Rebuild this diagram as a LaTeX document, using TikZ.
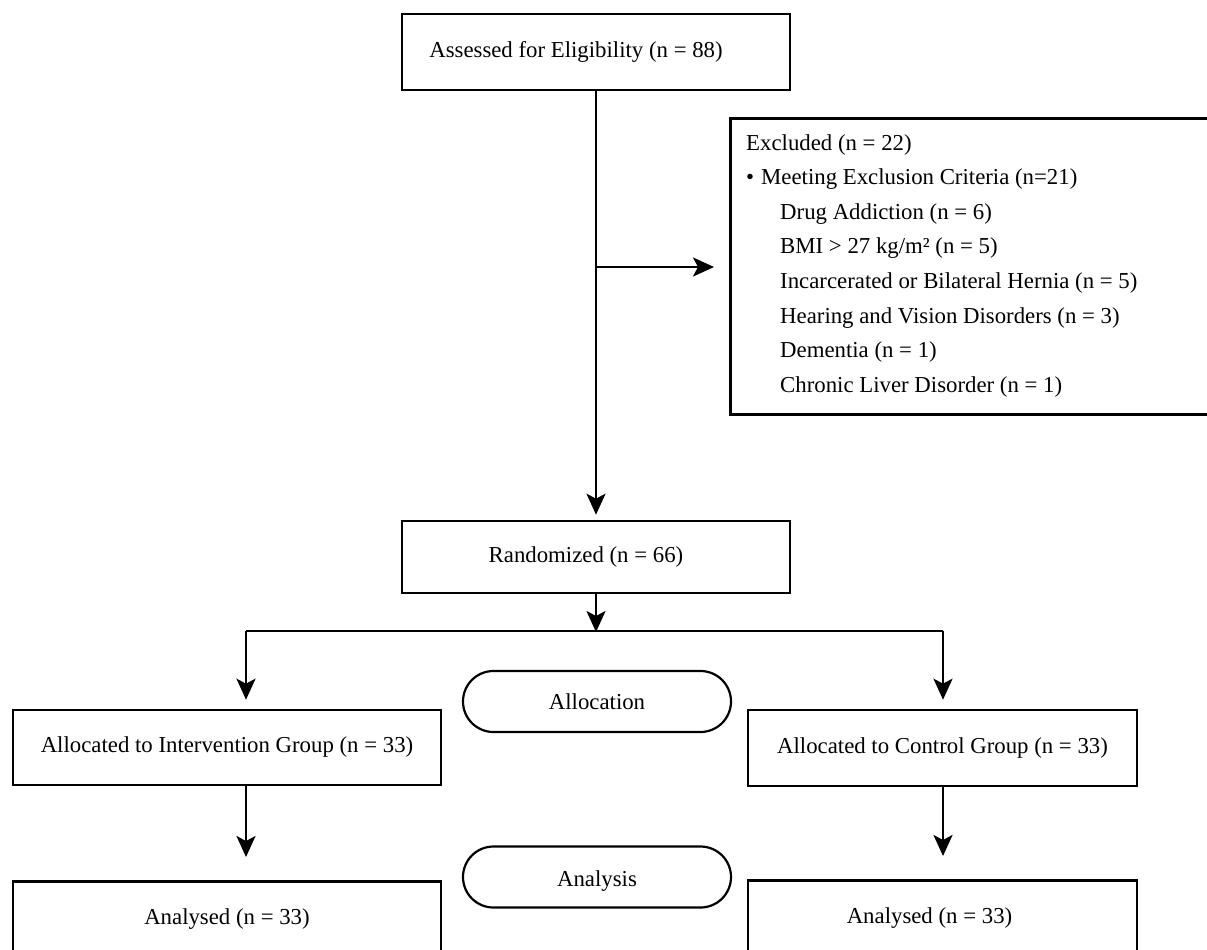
\documentclass[tikz,border=0pt]{standalone}
\usepackage{fontspec}
\setmainfont{Liberation Serif}
\usetikzlibrary{arrows.meta,shapes.misc}
\begin{document}
\begin{tikzpicture}[x=1pt,y=-1pt,
  every node/.style={font=\fontsize{22.8}{26}\selectfont},
  box/.style={draw,line width=2.6pt,rectangle,inner sep=0pt},
  ln/.style={line width=2.6pt},
  arr/.style={line width=2.6pt,-{Stealth[length=21pt,width=19pt,inset=5pt]}},
  pill/.style={draw,line width=2.2pt,rounded rectangle,minimum width=268pt,minimum height=61pt,inner sep=0pt},
  ex/.style={anchor=base west,inner sep=0pt}]
\useasboundingbox (0,0) rectangle (1207,950);
\clip (0,0) rectangle (1207,950);
% boxes
\node[box,minimum width=388pt,minimum height=76pt] (top) at (596,52) {\hspace*{-40pt}Assessed for Eligibility (n = 88)};
\node[box,anchor=north west,minimum width=490pt,minimum height=296pt] (excl) at (729,117) {};
\node[box,minimum width=388pt,minimum height=72pt] (rand) at (596,557) {\hspace*{-20pt}Randomized (n = 66)};
\node[box,minimum width=428pt,minimum height=75pt] (allocL) at (227,747.5) {Allocated to Intervention Group (n = 33)};
\node[box,minimum width=389pt,minimum height=76pt] (allocR) at (942.5,748) {Allocated to Control Group (n = 33)};
\node[box,anchor=north,minimum width=428pt,inner ysep=27pt,text depth=90pt] (anL) at (227,880) {Analysed (n = 33)};
\node[box,anchor=north,minimum width=389pt,inner ysep=27pt,text depth=90pt] (anR) at (942.5,879) {\hspace*{-26pt}Analysed (n = 33)};
\node[pill] (alloc) at (597,701.5) {Allocation};
\node[pill] (anal) at (597,877) {};
\node[inner sep=0pt] (analtxt) at (597,881) {Analysis};
% excluded text
\node[ex] (e1) at (746,150) {Excluded (n = 22)};
\node[ex] (e2) at (746,184) {\makebox[15pt][l]{•}Meeting Exclusion Criteria (n=21)};
\node[ex] (e3) at (780,219) {Drug Addiction (n = 6)};
\node[ex] (e4) at (780,253) {BMI > 27 kg/m² (n = 5)};
\node[ex] (e5) at (780,288) {Incarcerated or Bilateral Hernia (n = 5)};
\node[ex] (e6) at (780,323) {Hearing and Vision Disorders (n = 3)};
\node[ex] (e7) at (780,357) {Dementia (n = 1)};
\node[ex] (e8) at (780,392) {Chronic Liver Disorder (n = 1)};
% connectors
\coordinate (j1) at (596,267);
\coordinate (split) at (596,631);
\coordinate (sl) at (246,631);
\coordinate (sr) at (943,631);
\draw[arr,shorten >=5pt] (top.south) -- (rand.north);
\draw[arr,shorten >=15pt] (j1) -- (j1 -| excl.west);
\draw[arr,shorten >=-1pt] (rand.south) -- (split);
\draw[ln] (sl) -- (sr);
\draw[arr,shorten >=9pt] (sl) -- (sl |- allocL.north);
\draw[arr,shorten >=9pt] (sr) -- (sr |- allocR.north);
\draw[arr,shorten >=23pt] (allocL.south -| sl) -- (sl |- anL.north);
\draw[arr,shorten >=23pt] (allocR.south -| sr) -- (sr |- anR.north);
\end{tikzpicture}
\end{document}
